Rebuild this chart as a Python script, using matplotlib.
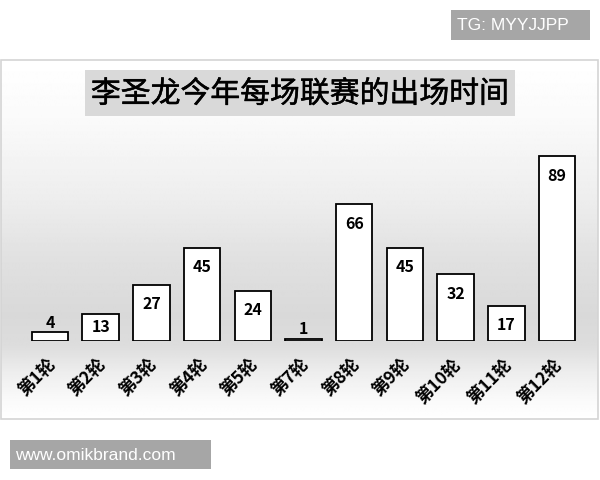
import numpy as np
import matplotlib
matplotlib.use("Agg")
import matplotlib.pyplot as plt
from matplotlib.patches import Rectangle
import matplotlib.transforms as mtransforms
import matplotlib.patheffects as pe

plt.rcParams['font.family'] = ['Noto Sans CJK SC', 'DejaVu Sans']

# Data
rounds = ['第1轮', '第2轮', '第3轮', '第4轮', '第5轮', '第7轮',
          '第8轮', '第9轮', '第10轮', '第11轮', '第12轮']
minutes = [4, 13, 27, 45, 24, 1, 66, 45, 32, 17, 89]

title = '李圣龙今年每场联赛的出场时间'
tag_text = 'TG: MYYJJPP'
site_text = 'www.omikbrand.com'

W, H = 600, 480
fig = plt.figure(figsize=(6, 4.8), dpi=100)
fig.patch.set_facecolor('white')

# background layer in pixel coordinates (y grows downward)
bg = fig.add_axes([0, 0, 1, 1])
bg.set_xlim(0, W)
bg.set_ylim(H, 0)
bg.axis('off')

# panel with vertical gray gradient
stops_y = [60, 120, 200, 260, 315, 345, 372, 400, 419]
stops_v = [1.0, 0.98, 0.93, 0.88, 0.85, 0.865, 0.93, 0.98, 1.0]
ys = np.linspace(60, 419, 360)
grad = np.interp(ys, stops_y, stops_v)[:, None] * np.ones((1, 40))
bg.imshow(grad, cmap='gray', vmin=0, vmax=1, aspect='auto',
          extent=[1, 598, 419, 60], interpolation='bilinear', zorder=0)
bg.add_patch(Rectangle((1, 60), 597, 359, fill=False, edgecolor='#d4d4d4',
                       linewidth=1.2, zorder=1))

# title box
bg.add_patch(Rectangle((85, 70), 430, 46, facecolor='#d9d9d9',
                       edgecolor='none', zorder=2))
bg.text(300, 94, title, ha='center', va='center', fontsize=21.5,
        color='black', zorder=3,
        path_effects=[pe.withStroke(linewidth=0.35, foreground='black')])

# top-right tag
bg.add_patch(Rectangle((451, 10), 139, 30, facecolor='#a6a6a6',
                       edgecolor='none', zorder=2))
bg.text(457, 25.5, tag_text, ha='left', va='center', fontsize=12.5,
        color='white', family='Liberation Sans', zorder=3)

# bottom-left site mark
bg.add_patch(Rectangle((10, 440), 201, 29, facecolor='#a6a6a6',
                       edgecolor='none', zorder=2))
bg.text(15, 455, site_text, ha='left', va='center', fontsize=12.5,
        color='white', family='Liberation Sans', zorder=3)

# bar chart axes
ax = fig.add_axes([24.65 / W, (H - 340.7) / H, 557.7 / W, 207 / H])
ax.patch.set_alpha(0)
x = np.arange(len(minutes))
bars = ax.bar(x, minutes, width=0.72, color='white', edgecolor='black',
              linewidth=1.3, zorder=3)
ax.set_xlim(-0.5, len(minutes) - 0.5)
ax.set_ylim(0, 100)
for s in ax.spines.values():
    s.set_visible(False)
ax.set_yticks([])
ax.set_xticks(x)
ax.set_xticklabels(rounds, rotation=45, ha='right', va='center',
                   rotation_mode='anchor', fontsize=12.5, fontweight='bold')
ax.tick_params(axis='x', length=0, pad=15)
shift = mtransforms.ScaledTranslation(2 / 72, 0, fig.dpi_scale_trans)
for lab in ax.get_xticklabels():
    lab.set_transform(lab.get_transform() + shift)

px_per_unit = 207 / 100
for b, v in zip(bars, minutes):
    h_px = v * px_per_unit
    if h_px > 35:
        off = -14
    elif v < 5:
        off = 7
    else:
        off = -h_px * 0.36
    ax.annotate(str(v), (b.get_x() + b.get_width() / 2, v),
                xytext=(0, off), textcoords='offset points',
                ha='center', va='center', fontsize=11.5, fontweight='bold',
                zorder=4)

fig.savefig('out.png', dpi=100)
